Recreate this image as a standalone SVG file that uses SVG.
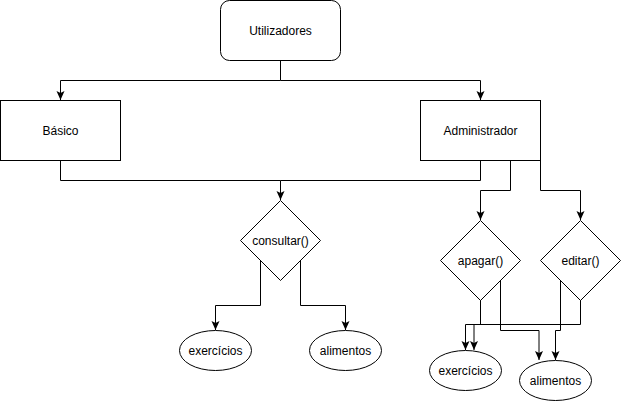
<svg xmlns="http://www.w3.org/2000/svg" width="621" height="401" viewBox="0 0 621 401">
<style>
.s{fill:#fff;stroke:#000;stroke-width:1}
.t{font-family:"Liberation Sans",Arial,sans-serif;font-size:12px;fill:#000;text-anchor:middle}
.c{fill:none;stroke:#000;stroke-width:1}
</style>
<defs>
<marker id="a" markerUnits="userSpaceOnUse" viewBox="-10 -5 11 10" refX="0" refY="0" markerWidth="11" markerHeight="10" orient="auto">
<path d="M0,0 L-9,-4 L-7,0 L-9,4 Z" fill="#000"/>
</marker>
</defs>
<rect width="621" height="401" fill="#fff"/>
<g id="connectors">
<path class="c" d="M280.5,60.5 V80.5 H60.5 V100" marker-end="url(#a)"/>
<path class="c" d="M280.5,80.5 H480.5 V100" marker-end="url(#a)"/>
<path class="c" d="M60.5,160.5 V180.5 H280.5 V200" marker-end="url(#a)"/>
<path class="c" d="M480.5,160.5 V180.5 H280.5"/>
<path class="c" d="M510.5,160.5 V190.5 H480.5 V220" marker-end="url(#a)"/>
<path class="c" d="M540.5,160.5 V190.5 H580.5 V220" marker-end="url(#a)"/>
<path class="c" d="M260.5,260 V305.5 H215.5 V330" marker-end="url(#a)"/>
<path class="c" d="M300.5,260 V305.5 H345.5 V330" marker-end="url(#a)"/>
<path class="c" d="M480.5,300 V324.5 H474 V350" marker-end="url(#a)"/>
<path class="c" d="M580.5,300 V324.5 H465.5 V350" marker-end="url(#a)"/>
<path class="c" d="M500.5,280 V330.5 H539 V360" marker-end="url(#a)"/>
<path class="c" d="M560.5,280 V330.5 H555.5 V360" marker-end="url(#a)"/>
</g>
<g id="utilizadores"><rect class="s" x="220.5" y="0.5" width="120" height="60" rx="9"/><text class="t" x="280.5" y="34.5">Utilizadores</text></g>
<g id="basico"><rect class="s" x="0.5" y="100.5" width="120" height="60"/><text class="t" x="60.5" y="134.5">Básico</text></g>
<g id="administrador"><rect class="s" x="420.5" y="100.5" width="120" height="60"/><text class="t" x="480.5" y="134.5">Administrador</text></g>
<g id="consultar"><path class="s" d="M280.5,200.5 L320.5,240.5 L280.5,280.5 L240.5,240.5 Z"/><text class="t" x="280.5" y="244.5">consultar()</text></g>
<g id="apagar"><path class="s" d="M480.5,220.5 L520.5,260.5 L480.5,300.5 L440.5,260.5 Z"/><text class="t" x="480.5" y="264.5">apagar()</text></g>
<g id="editar"><path class="s" d="M580.5,220.5 L620.5,260.5 L580.5,300.5 L540.5,260.5 Z"/><text class="t" x="580.5" y="264.5">editar()</text></g>
<g id="exercicios1"><ellipse class="s" cx="215.5" cy="350.5" rx="36" ry="20"/><text class="t" x="215.5" y="354.5">exercícios</text></g>
<g id="alimentos1"><ellipse class="s" cx="345.5" cy="350.5" rx="36" ry="20"/><text class="t" x="345.5" y="354.5">alimentos</text></g>
<g id="exercicios2"><ellipse class="s" cx="465.5" cy="370.5" rx="36" ry="20"/><text class="t" x="465.5" y="374.5">exercícios</text></g>
<g id="alimentos2"><ellipse class="s" cx="555.5" cy="380.5" rx="36" ry="20"/><text class="t" x="555.5" y="384.5">alimentos</text></g>
</svg>
